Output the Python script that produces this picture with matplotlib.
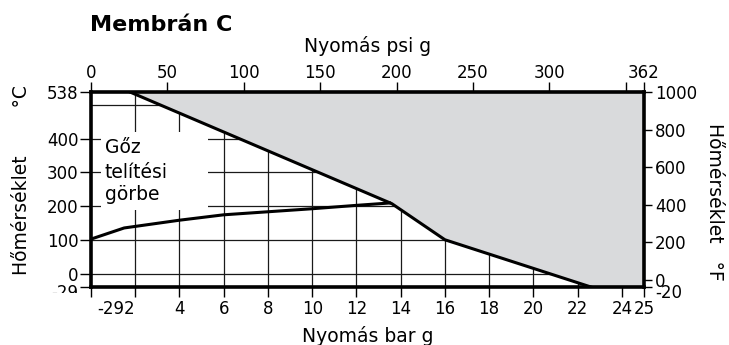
import matplotlib
matplotlib.use('Agg')
import matplotlib.pyplot as plt
from matplotlib.patches import Rectangle
from matplotlib.transforms import Bbox, TransformedBbox, IdentityTransform, ScaledTranslation

# -------------------- Data --------------------
# upper limit of the membrane (bar g, deg C)
LIMIT_BAR = [1.76, 13.6, 16.0, 22.6]
LIMIT_C = [538, 207, 100, -40]

# steam saturation curve (bar g, deg C)
SAT_BAR = [0, 1.5, 4, 6, 8, 10, 12, 13.5]
SAT_C = [102, 135, 158, 174, 183, 192, 202, 209]

# axes ranges
BAR_MIN, BAR_MAX = 0, 25
C_MIN, C_MAX = -40, 538
PSI_MAX = 362

# ticks
BAR_TICKS = [0, 2, 4, 6, 8, 10, 12, 14, 16, 18, 20, 22, 24, 25]
BAR_LABELS = ['', '-292', '4', '6', '8', '10', '12', '14', '16', '18', '20', '22', '24', '25']
PSI_TICKS = [0, 50, 100, 150, 200, 250, 300, 350, 362]
PSI_LABELS = ['0', '50', '100', '150', '200', '250', '300', '', '362']
C_TICKS = [-40, 0, 100, 200, 300, 400, 538]
C_LABELS = ['-29', '0', '100', '200', '300', '400', '538']
F_TICKS = [-40, 0, 200, 400, 600, 800, 1000]
F_LABELS = ['-20', '0', '200', '400', '600', '800', '1000']

GRID_BAR = [2, 4, 6, 8, 10, 12, 14, 16, 18, 20, 22, 24]
GRID_C = [0, 100, 200, 300, 400, 500]

TICK_FS = 12
LABEL_FS = 13.5
SPINE_W = 2.6


def c_to_f(c):
    return c * 9 / 5 + 32


# -------------------- Figure --------------------
fig = plt.figure(figsize=(7.29, 3.45), dpi=100)
ax = fig.add_axes([91 / 729, 58 / 345, 553 / 729, 195 / 345])
ax.set_xlim(BAR_MIN, BAR_MAX)
ax.set_ylim(C_MIN, C_MAX)

# grid
ax.vlines(GRID_BAR, C_MIN, C_MAX, colors='#1a1a1a', lw=0.9, zorder=1)
ax.hlines(GRID_C, BAR_MIN, BAR_MAX, colors='#1a1a1a', lw=0.9, zorder=1)

# shaded region above the limit line
fill_x = LIMIT_BAR + [BAR_MAX, BAR_MAX]
fill_y = LIMIT_C + [C_MIN, C_MAX]
ax.fill(fill_x, fill_y, color='#d9dadc', lw=0, zorder=2)

# white box behind the curve label
ax.add_patch(Rectangle((0.45, 187), 4.84, 231, facecolor='white',
                       edgecolor='none', zorder=2))

ax.plot(LIMIT_BAR, LIMIT_C, color='black', lw=2.2, zorder=3)
ax.plot(SAT_BAR, SAT_C, color='black', lw=2.2, zorder=3)

for txt, yb in [('Gőz', 356), ('telítési', 282), ('görbe', 217)]:
    ax.text(0.63, yb, txt, fontsize=LABEL_FS, va='baseline', ha='left', zorder=4)

# bottom / left axes
ax.set_xticks(BAR_TICKS)
ax.set_xticklabels(BAR_LABELS)
ax.set_yticks(C_TICKS)
ax.set_yticklabels(C_LABELS)
ax.tick_params(axis='x', direction='out', length=7, width=1, pad=2, labelsize=TICK_FS)
ax.tick_params(axis='y', direction='out', length=8, width=1, pad=1, labelsize=TICK_FS)
for lbl in ax.get_xticklabels():
    if lbl.get_text() == '-292':
        lbl.set_ha('right')
for spine in ax.spines.values():
    spine.set_linewidth(SPINE_W)
    spine.set_zorder(5)

# bottom-most labels sit a little below their tick, "-29" is cut off
shift_down = ScaledTranslation(0, -4 / 100, fig.dpi_scale_trans)
clip = TransformedBbox(Bbox([[0, 52], [729, 345]]), IdentityTransform())
for lbl in ax.get_yticklabels():
    if lbl.get_text() == '-29':
        lbl.set_transform(lbl.get_transform() + shift_down)
        lbl.set_clip_on(True)
        lbl.set_clip_box(clip)

ax.set_xlabel('Nyomás bar g', fontsize=LABEL_FS)
ax.xaxis.set_label_coords(0.5, -0.2)
ax.set_ylabel('Hőmérséklet        °C', fontsize=LABEL_FS)
ax.yaxis.set_label_coords(-0.108, 0.55)

# top axis: psi
ax_top = ax.twiny()
ax_top.set_xlim(0, PSI_MAX)
ax_top.set_xticks(PSI_TICKS)
ax_top.set_xticklabels(PSI_LABELS)
ax_top.tick_params(axis='x', direction='out', length=7, width=1, pad=0.5, labelsize=TICK_FS)
ax_top.set_xlabel('Nyomás psi g', fontsize=LABEL_FS)
ax_top.xaxis.set_label_coords(0.5, 1.205)
for spine in ax_top.spines.values():
    spine.set_visible(False)

# right axis: deg F
ax_right = ax.twinx()
ax_right.set_ylim(c_to_f(C_MIN), c_to_f(C_MAX))
ax_right.set_yticks(F_TICKS)
ax_right.set_yticklabels(F_LABELS)
ax_right.tick_params(axis='y', direction='out', length=6, width=1, pad=2, labelsize=TICK_FS)
for lbl in ax_right.get_yticklabels():
    if lbl.get_text() == '-20':
        lbl.set_transform(lbl.get_transform() + shift_down)
ax_right.set_ylabel('Hőmérséklet   °F', fontsize=LABEL_FS, rotation=270, va='bottom')
ax_right.yaxis.set_label_coords(1.11, 0.436)
for spine in ax_right.spines.values():
    spine.set_visible(False)

fig.text(90 / 729, 1 - 25 / 345, 'Membrán C', fontsize=16, fontweight='bold',
         ha='left', va='center')

fig.savefig('out.png', dpi=100)
